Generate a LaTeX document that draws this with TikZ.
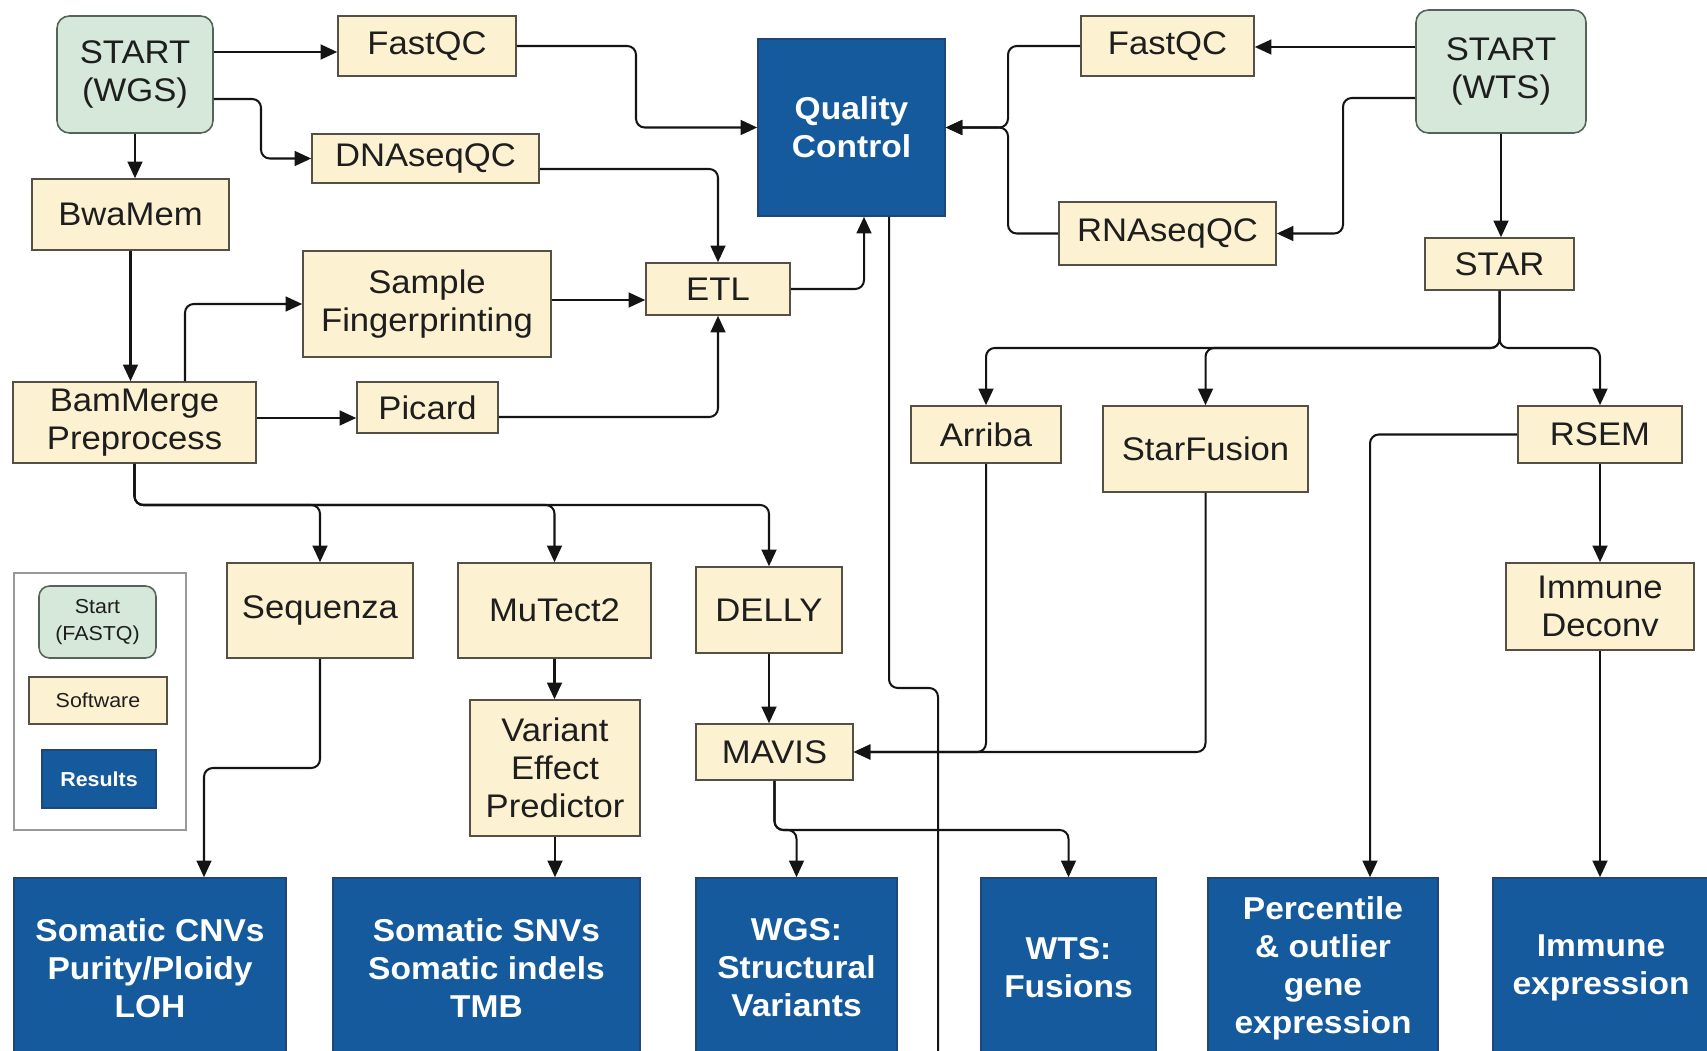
\documentclass[tikz,border=0pt]{standalone}
\usepackage{fontspec}
\setmainfont{Liberation Sans}[FakeStretch=1.06]
\usetikzlibrary{arrows.meta}
\definecolor{resfill}{RGB}{22,90,158}
\definecolor{resline}{RGB}{30,70,120}
\definecolor{softfill}{RGB}{252,241,208}
\definecolor{softline}{RGB}{85,80,70}
\definecolor{startfill}{RGB}{214,232,217}
\definecolor{startline}{RGB}{85,100,90}
\definecolor{softtext}{RGB}{30,30,30}
\definecolor{linecol}{RGB}{20,20,20}
\begin{document}
\begin{tikzpicture}[x=0.02cm,y=-0.02cm,
  corners/.style n args={4}{at={({(#1+#3)/2},{(#2+#4)/2})}, minimum width={(#3-#1)*0.02cm}, minimum height={(#4-#2)*0.02cm}},
  soft/.style={draw=softline, fill=softfill, line width=0.9pt, inner sep=0pt, align=center, text=softtext, font=\fontsize{18.6}{21.5}\selectfont},
  startbox/.style={soft, fill=startfill, draw=startline, rounded corners=7pt},
  res/.style={draw=resline, fill=resfill, line width=0.9pt, inner sep=0pt, align=center, text=white, font=\bfseries\fontsize{18}{21.6}\selectfont},
  arr/.style={draw=linecol, line width=1.15pt, rounded corners=5pt, -{Triangle[length=9.5pt,width=8.5pt]}},
  plainline/.style={draw=linecol, line width=1.15pt, rounded corners=5pt}]
\useasboundingbox (0,0) rectangle (1707,1051);
\clip (0,0) rectangle (1707,1051);
\fill[white] (0,0) rectangle (1707,1051);

% WGS side
\node[startbox, corners={57}{16}{213}{133}] (sW) {START\\(WGS)};
\node[soft, corners={338}{16}{516}{76}] (fqL) {FastQC};
\node[soft, corners={312}{134}{539}{183}] (dna) {DNAseqQC};
\node[soft, corners={32}{179}{229}{250}] (bwa) {BwaMem};
\node[soft, corners={303}{251}{551}{357}] (sf) {Sample\\Fingerprinting};
\node[soft, corners={13}{382}{256}{463}] (bm) {BamMerge\\Preprocess};
\node[soft, corners={357}{382}{498}{433}] (pic) {Picard};
\node[soft, corners={646}{263}{790}{315}] (etl) {ETL};
\node[res, corners={758}{39}{945}{216}] (qc) {Quality\\Control};

% WTS side
\node[soft, corners={1081}{16}{1254}{76}] (fqR) {FastQC};
\node[startbox, corners={1416}{10}{1586}{133}] (sT) {START\\(WTS)};
\node[soft, corners={1059}{202}{1276}{265}] (rna) {RNAseqQC};
\node[soft, corners={1425}{238}{1574}{290}] (star) {STAR};
\node[soft, corners={911}{406}{1061}{463}] (arriba) {Arriba};
\node[soft, corners={1103}{406}{1308}{492}] (sfu) {StarFusion};
\node[soft, corners={1518}{406}{1682}{463}] (rsem) {RSEM};
\node[soft, corners={1506}{563}{1694}{650}] (imd) {Immune\\Deconv};

% middle
\node[soft, corners={227}{563}{413}{658}] (seq) {Sequenza};
\node[soft, corners={458}{563}{651}{658}] (mut) {MuTect2};
\node[soft, corners={696}{567}{842}{653}] (del) {DELLY};
\node[soft, corners={470}{700}{640}{836}] (vep) {Variant\\Effect\\Predictor};
\node[soft, corners={696}{724}{853}{780}] (mavis) {MAVIS};

% legend
\node[draw=gray!80, fill=white, line width=0.8pt, inner sep=0pt, corners={14}{573}{186}{830}] (legend) {};
\node[startbox, rounded corners=6pt, font=\fontsize{11.5}{15.5}\selectfont, corners={39}{586}{156}{658}] (lgS) {Start\\(FASTQ)};
\node[soft, font=\fontsize{11.5}{14}\selectfont, corners={29}{677}{167}{724}] (lgW) {Software};
\node[res, font=\bfseries\fontsize{11.5}{14}\selectfont, corners={42}{750}{156}{808}] (lgR) {Results};

% results
\node[res, corners={14}{878}{286}{1058}] (cnv) {Somatic CNVs\\Purity/Ploidy\\LOH};
\node[res, corners={333}{878}{640}{1058}] (snv) {Somatic SNVs\\Somatic indels\\TMB};
\node[res, corners={696}{878}{897}{1058}] (sv) {WGS:\\Structural\\Variants};
\node[res, corners={981}{878}{1156}{1058}] (wts) {WTS:\\Fusions};
\node[res, corners={1208}{878}{1438}{1058}] (pct) {Percentile\\\& outlier\\gene\\expression};
\node[res, corners={1493}{878}{1709}{1058}] (ie) {Immune\\expression};

% connectors WGS
\draw[arr] (sW.east |- 0,52) -- (fqL.west |- 0,52);
\draw[arr] (sW.east |- 0,99) -- (261,99) |- (dna.west);
\draw[arr] (sW.south) -- (sW.south |- bwa.north);
\draw[arr] (bwa.south) -- (bwa.south |- bm.north);
\draw[arr] (bm.north -| 185,0) |- (sf.west);
\draw[arr] (bm.east |- 0,418) -- (pic.west |- 0,418);
\draw[arr] (fqL.east) -- (636,46) |- (qc.west);
\draw[arr] (dna.east |- 0,169) -| (etl.north);
\draw[arr] (sf.east |- 0,300) -- (etl.west |- 0,300);
\draw[arr] (pic.east |- 0,417) -| (etl.south);
\draw[arr] (etl.east) -| (qc.south -| 864,0);
\draw[plainline] (qc.south -| 889,0) -- (889,688) -- (938,688) -- (938,1070);

% connectors WTS
\draw[arr] (sT.west |- 0,47) -- (fqR.east |- 0,47);
\draw[arr] (fqR.west) -- (1008,46) |- (qc.east);
\draw[arr] (rna.west) -- (1008,233.5) |- (qc.east);
\draw[arr] (sT.west |- 0,98) -- (1343,98) |- (rna.east);
\draw[arr] (sT.south) -- (sT.south |- star.north);
\draw[arr] (star.south) -- (star.south |- 0,348) -| (arriba.north);
\draw[arr] (star.south) -- (star.south |- 0,348) -| (sfu.north);
\draw[arr] (star.south) -- (star.south |- 0,348) -| (rsem.north);
\draw[arr] (arriba.south) |- (mavis.east);
\draw[arr] (sfu.south) |- (mavis.east);
\draw[arr] (rsem.west) -| (pct.north -| 1370,0);
\draw[arr] (rsem.south) -- (rsem.south |- imd.north);
\draw[arr] (imd.south) -- (imd.south |- ie.north);

% variant calling
\draw[arr] (bm.south) -- (bm.south |- 0,505) -| (seq.north);
\draw[arr] (bm.south) -- (bm.south |- 0,505) -| (mut.north);
\draw[arr] (bm.south) -- (bm.south |- 0,505) -| (del.north);
\draw[arr] (seq.south) -- (seq.south |- 0,768) -| (cnv.north -| 204,0);
\draw[arr] (mut.south) -- (mut.south |- vep.north);
\draw[arr] (vep.south) -- (vep.south |- snv.north);
\draw[arr] (del.south) -- (del.south |- mavis.north);
\draw[arr] (mavis.south) -- (mavis.south |- 0,830) -| (sv.north);
\draw[arr] (mavis.south) -- (mavis.south |- 0,830) -| (wts.north);
\end{tikzpicture}
\end{document}
